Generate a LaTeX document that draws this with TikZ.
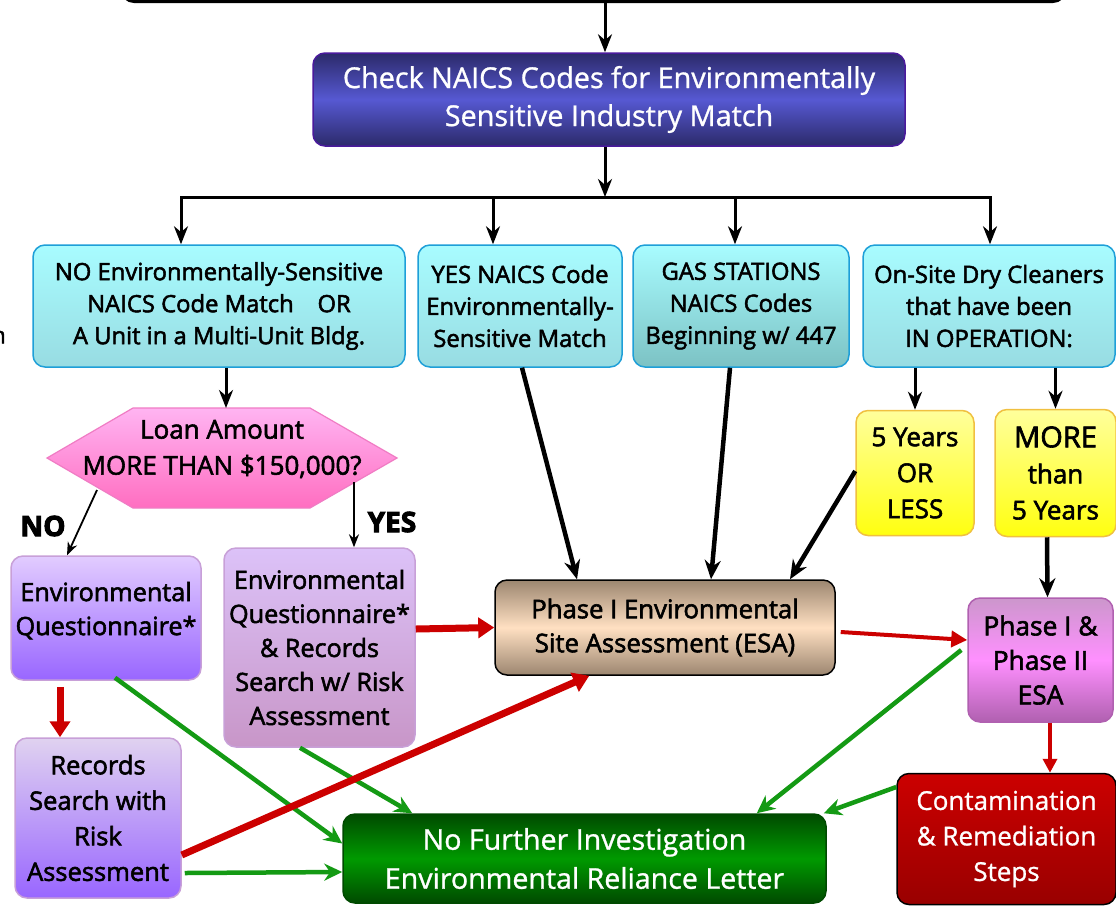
\documentclass[tikz,border=0pt]{standalone}
\usepackage{fontspec}
\setmainfont{Open Sans}
\newfontfamily\sbf{Open Sans}[FakeBold=2.2]
\newfontfamily\wbf{Open Sans}[FakeBold=1]
\newfontfamily\heavyf{Open Sans}[FakeBold=3.5]
\usetikzlibrary{arrows.meta,shadings,calc}
\definecolor{cyanT}{HTML}{A8FCFF}
\definecolor{cyanB}{HTML}{98DCE2}
\definecolor{cyanD}{HTML}{7CC2C4}
\definecolor{cyanL}{HTML}{1E9FD8}
\definecolor{chkT}{HTML}{2C2A6A}
\definecolor{chkM}{HTML}{5658D2}
\definecolor{chkL}{HTML}{4A1A9C}
\definecolor{pinkT}{HTML}{FFB4F2}
\definecolor{pinkB}{HTML}{FF6EC0}
\definecolor{pinkL}{HTML}{F07CC4}
\definecolor{purT}{HTML}{E2CCFF}
\definecolor{purB}{HTML}{9966FF}
\definecolor{purL}{HTML}{C8A0D8}
\definecolor{mauT}{HTML}{DCC2F8}
\definecolor{mauB}{HTML}{C896C8}
\definecolor{recT}{HTML}{E0D2F0}
\definecolor{brnE}{HTML}{9C8670}
\definecolor{brnM}{HTML}{FFE0C2}
\definecolor{yelT}{HTML}{FFFF9C}
\definecolor{yelB}{HTML}{FFFF10}
\definecolor{yelL}{HTML}{F0C040}
\definecolor{ph2T}{HTML}{CC96CC}
\definecolor{ph2M}{HTML}{FF90FF}
\definecolor{ph2L}{HTML}{B060B0}
\definecolor{conT}{HTML}{CC0000}
\definecolor{conB}{HTML}{990000}
\definecolor{grnE}{HTML}{004A00}
\definecolor{grnM}{HTML}{009A00}
\definecolor{arrR}{HTML}{CC0000}
\definecolor{arrG}{HTML}{149A14}
\begin{document}
\begin{tikzpicture}[x=1pt,y=-1pt,
  box/.style={rounded corners=12pt, align=center, inner sep=0pt, line width=1.5pt},
  cyanbox/.style={box, draw=cyanL, top color=cyanT, bottom color=cyanB, minimum height=122pt, font=\sbf\fontsize{23.8}{32}\selectfont},
  purbox/.style={box, draw=purL, top color=purT, bottom color=purB, font=\sbf\fontsize{25.2}{34}\selectfont},
  yelbox/.style={box, draw=yelL, top color=yelT, bottom color=yelB, font=\sbf\fontsize{26}{36}\selectfont},
  blk/.style={line width=3pt, -{Stealth[length=18pt,width=14pt]}},
  blkthick/.style={line width=4.5pt, -{Stealth[length=19pt,width=16pt]}},
  thinarr/.style={line width=1.8pt, -{Stealth[length=13pt,width=10pt]}},
  redarr/.style={line width=7pt, arrR, -{Triangle[length=16pt,width=20pt]}},
  grnarr/.style={line width=4.5pt, arrG, -{Stealth[length=18pt,width=17pt]}},
  lbl/.style={font=\heavyf\bfseries\fontsize{28}{30}\selectfont}
]
\useasboundingbox (0,0) rectangle (1116,906);
\fill[white] (0,0) rectangle (1116,906);

% partial top box
\node[box, draw=black, line width=3pt, fill=white, minimum width=943pt, minimum height=60pt] (topbox) at (593.5,-28.5) {};
% left edge fragment
\node[anchor=east, inner sep=0pt, font=\sbf\fontsize{23}{32}\selectfont] (frag) at (6,337) {n};

\node[box, draw=chkL, top color=chkT, bottom color=chkT, middle color=chkM, minimum width=592pt, minimum height=93pt, text=white, font=\wbf\fontsize{28.8}{38}\selectfont] (check) at (609,99.5) {Check NAICS Codes for Environmentally\\Sensitive Industry Match};

\node[cyanbox, minimum width=372pt] (no) at (219,306) {NO Environmentally-Sensitive\\NAICS Code Match\quad OR\\A Unit in a Multi-Unit Bldg.};
\node[cyanbox, minimum width=204pt] (yes) at (520,306) {YES NAICS Code\\Environmentally-\\Sensitive Match};
\node[cyanbox, bottom color=cyanD, minimum width=216pt] (gas) at (741,306) {GAS STATIONS\\NAICS Codes\\Beginning w/ 447};
\node[cyanbox, minimum width=252pt] (dry) at (989,306) {On-Site Dry Cleaners\\that have been\\IN OPERATION:};

% hexagon
\shadedraw[top color=pinkT, bottom color=pinkB, draw=pinkL, line width=1.2pt] (47,458) -- (133,408) -- (310,408) -- (397,458) -- (310,508) -- (133,508) -- cycle;
\node[minimum width=350pt, minimum height=100pt, inner sep=0pt, align=center, font=\sbf\fontsize{26}{36}\selectfont] (loan) at (222,449) {Loan Amount\\MORE THAN \$150,000?};

\node[purbox, minimum width=190pt, minimum height=124pt] (eq) at (106,618) {Environmental\\Questionnaire*\\[-15pt]};
\node[purbox, top color=mauT, bottom color=mauB, minimum width=191pt, minimum height=199pt] (eqr) at (319.5,647.5) {Environmental\\Questionnaire*\\\& Records\\Search w/ Risk\\Assessment};
\node[purbox, top color=recT, minimum width=166pt, minimum height=160pt, font=\sbf\fontsize{25.5}{35.5}\selectfont] (rec) at (98,818) {Records\\Search with\\Risk\\Assessment};

\node[box, draw=black, top color=brnE, bottom color=brnE, middle color=brnM, minimum width=340pt, minimum height=95pt, font=\sbf\fontsize{25.7}{34}\selectfont] (ph1) at (665,627.5) {Phase I Environmental\\Site Assessment (ESA)};

\node[yelbox, minimum width=118pt, minimum height=125pt] (y5) at (915,473) {5 Years\\OR\\LESS};
\node[yelbox, minimum width=121pt, minimum height=127pt] (m5) at (1055.5,473) {{\fontsize{29}{36}\selectfont MORE}\\than\\5 Years};

\node[box, draw=ph2L, top color=ph2T, bottom color=ph2L, middle color=ph2M, minimum width=145pt, minimum height=124pt, font=\sbf\fontsize{26.3}{34.5}\selectfont] (ph12) at (1040.5,660) {Phase I \&\\Phase II\\ESA};

\node[box, draw=black, top color=conT, bottom color=conB, minimum width=219pt, minimum height=131pt, text=white, font=\wbf\fontsize{26}{35.5}\selectfont] (cont) at (1006.5,839) {Contamination\\\& Remediation\\Steps};

\node[box, draw=grnE, top color=grnE, bottom color=grnE, middle color=grnM, minimum width=483pt, minimum height=89pt, text=white, font=\wbf\fontsize{28.6}{39}\selectfont] (nfi) at (584.5,858.5) {No Further Investigation\\Environmental Reliance Letter};

% connectors
\coordinate (ax) at (605,0);
\coordinate (bar) at (605,197);
\coordinate (bl) at (181,197);
\coordinate (br) at (990,197);
\draw[blk] (topbox.south -| ax) -- (check.north -| ax);
\draw[blk] (check.south -| bar) -- (bar);
\draw[line width=3pt, line cap=rect] (bl) -- (br);
\draw[blk] (bl) -- (no.north -| bl);
\coordinate (b2) at (493,197);
\coordinate (b3) at (735,197);
\draw[blk] (b2) -- (yes.north -| b2);
\draw[blk] (b3) -- (gas.north -| b3);
\draw[blk] (br) -- (dry.north -| br);

\coordinate (lx) at (226,0);
\draw[blk] (no.south -| lx) -- (lx |- 0,408);
\coordinate (nos) at (97,490);
\coordinate (yss) at (354,482);
\draw[thinarr] (nos) -- ([xshift=-39pt]eq.north);
\draw[thinarr] (yss) -- (eqr.north -| yss);
\node[lbl] (nolbl) at (43,526) {NO};
\node[lbl] (yeslbl) at (392,522) {YES};

\coordinate (rx) at (60,0);
\draw[redarr] ([yshift=-6pt]eq.south -| rx) -- (rec.north -| rx);
\draw[grnarr] ([xshift=9pt,yshift=3pt]eq.south) -- ([yshift=15pt]nfi.west);
\draw[grnarr] ([xshift=-19.5pt]eqr.south) -- ([xshift=70pt]nfi.north west);
\draw[redarr] ([yshift=-37pt]rec.east) -- ([xshift=95pt]ph1.south west);
\draw[grnarr] ([xshift=3pt,yshift=-55pt]rec.east) -- ([yshift=-13.5pt]nfi.west);
\draw[redarr] ([yshift=18.5pt]eqr.east) -- (ph1.west);

\draw[blkthick] ([xshift=2pt]yes.south) -- ([xshift=-88pt]ph1.north);
\draw[blkthick] ([xshift=-11pt]gas.south) -- ([xshift=46pt]ph1.north);
\draw[blkthick] ([yshift=2pt]y5.west) -- ([xshift=125pt]ph1.north);

\draw[blk] (dry.south -| y5.north) -- (y5.north);
\draw[blk] (dry.south -| m5.north) -- (m5.north);
\draw[blkthick] ([xshift=-8.5pt]m5.south) -- ([xshift=7pt]ph12.north);

\draw[line width=4pt, arrR, -{Triangle[length=16pt,width=16pt]}] ([xshift=5pt,yshift=-4.5pt]ph1.east) -- ([yshift=20pt]ph12.west);
\draw[line width=4pt, arrR, -{Triangle[length=14pt,width=14pt]}] ([xshift=9.5pt]ph12.south) -- ([xshift=43.5pt]cont.north);
\draw[grnarr] ([xshift=-6pt,yshift=10pt]ph12.west) -- ([xshift=-70pt]nfi.north east);
\draw[grnarr] ([yshift=52pt]cont.west) -- ([xshift=-3pt]nfi.north east);
\end{tikzpicture}
\end{document}
